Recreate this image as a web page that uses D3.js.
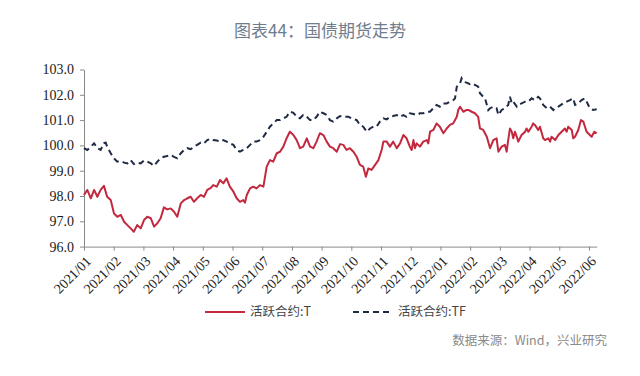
<!DOCTYPE html>
<html>
<head>
<meta charset="utf-8">
<script src="https://cdn.jsdelivr.net/npm/d3@7"></script>
<style>
  body { margin: 0; background: #fff; }
  #wrapper { width: 640px; height: 376px; }
</style>
</head>
<body>
<div id="wrapper"></div>
<script>
// x tick labels, one per month
const monthLabels = ["2021/01", "2021/02", "2021/03", "2021/04", "2021/05", "2021/06",
    "2021/07", "2021/08", "2021/09", "2021/10", "2021/11", "2021/12",
    "2022/01", "2022/02", "2022/03", "2022/04", "2022/05", "2022/06"]
const yTicks = [96, 97, 98, 99, 100, 101, 102, 103]
const lastMonthPos = 17.26  // data runs to early June 2022

// [months since 2021/01, price]
const seriesT = [
    [0.00, 98.04], [0.11, 98.24], [0.23, 97.91], [0.34, 98.24], [0.45, 97.97], [0.56, 98.24],
    [0.67, 98.40], [0.78, 97.97], [0.90, 97.84], [1.01, 97.31], [1.12, 97.18], [1.24, 97.25],
    [1.35, 96.98], [1.46, 96.85], [1.57, 96.72], [1.68, 96.59], [1.79, 96.85], [1.91, 96.72],
    [2.02, 97.05], [2.13, 97.18], [2.25, 97.12], [2.36, 96.79], [2.47, 96.92], [2.58, 97.12],
    [2.69, 97.55], [2.80, 97.47], [2.92, 97.51], [3.03, 97.38], [3.14, 97.18], [3.26, 97.71],
    [3.37, 97.84], [3.48, 97.91], [3.59, 97.97], [3.70, 97.77], [3.81, 97.91], [3.93, 98.04],
    [4.04, 97.97], [4.15, 98.24], [4.27, 98.32], [4.35, 98.43], [4.47, 98.37], [4.58, 98.63],
    [4.69, 98.50], [4.80, 98.70], [4.91, 98.37], [5.03, 98.17], [5.14, 97.91], [5.25, 97.77],
    [5.36, 97.84], [5.42, 97.74], [5.48, 98.04], [5.59, 98.30], [5.70, 98.37], [5.81, 98.30],
    [5.92, 98.43], [6.04, 98.37], [6.15, 99.16], [6.26, 99.42], [6.37, 99.36], [6.49, 99.69],
    [6.60, 99.75], [6.71, 99.95], [6.82, 100.28], [6.93, 100.54], [7.05, 100.41], [7.16, 100.21],
    [7.27, 99.89], [7.38, 99.95], [7.50, 100.28], [7.61, 99.95], [7.72, 99.89], [7.83, 100.15],
    [7.94, 100.48], [8.06, 100.41], [8.17, 100.15], [8.28, 99.95], [8.39, 99.89], [8.51, 99.75],
    [8.62, 100.05], [8.73, 100.02], [8.84, 99.82], [8.95, 99.89], [9.07, 99.75], [9.18, 99.55],
    [9.29, 99.23], [9.40, 99.16], [9.49, 98.76], [9.57, 99.09], [9.68, 99.03], [9.80, 99.23],
    [9.91, 99.42], [10.02, 99.82], [10.08, 100.15], [10.19, 100.15], [10.30, 99.95], [10.41, 100.15],
    [10.53, 99.89], [10.64, 100.08], [10.75, 100.41], [10.86, 100.28], [10.97, 99.95], [11.03, 99.82],
    [11.09, 100.21], [11.14, 99.89], [11.20, 100.08], [11.31, 99.95], [11.42, 100.15], [11.54, 100.21],
    [11.59, 100.08], [11.65, 100.54], [11.76, 100.61], [11.87, 100.87], [11.98, 100.74], [12.10, 100.48],
    [12.21, 100.67], [12.32, 100.81], [12.43, 100.87], [12.55, 101.13], [12.60, 101.40], [12.66, 101.53],
    [12.77, 101.33], [12.88, 101.40], [12.94, 101.40], [13.05, 101.33], [13.16, 101.27], [13.27, 101.13],
    [13.33, 100.67], [13.44, 100.61], [13.56, 100.34], [13.67, 99.89], [13.78, 100.21], [13.89, 100.28],
    [13.95, 99.75], [14.06, 99.95], [14.17, 100.02], [14.23, 99.75], [14.28, 100.21], [14.34, 100.67],
    [14.40, 100.54], [14.45, 100.28], [14.51, 100.54], [14.57, 100.34], [14.62, 100.15], [14.73, 100.41],
    [14.85, 100.54], [14.90, 100.67], [14.96, 100.54], [15.07, 100.74], [15.12, 100.87], [15.18, 100.81],
    [15.29, 100.61], [15.35, 100.74], [15.46, 100.28], [15.52, 100.21], [15.63, 100.28], [15.69, 100.15],
    [15.74, 100.34], [15.86, 100.21], [15.97, 100.41], [16.08, 100.54], [16.19, 100.67], [16.25, 100.54],
    [16.30, 100.74], [16.42, 100.61], [16.47, 100.28], [16.53, 100.34], [16.64, 100.61], [16.73, 101.00],
    [16.81, 100.94], [16.92, 100.54], [17.03, 100.41], [17.09, 100.34], [17.18, 100.54], [17.26, 100.48]
]

const seriesTF = [
    [0.00, 99.89], [0.11, 99.82], [0.23, 99.95], [0.34, 100.08], [0.45, 99.89], [0.56, 99.82],
    [0.67, 100.08], [0.73, 100.11], [0.78, 99.95], [0.90, 99.69], [1.01, 99.49], [1.12, 99.36],
    [1.24, 99.38], [1.35, 99.32], [1.46, 99.29], [1.57, 99.42], [1.68, 99.26], [1.79, 99.32],
    [1.91, 99.29], [2.02, 99.40], [2.13, 99.36], [2.25, 99.29], [2.36, 99.19], [2.47, 99.36],
    [2.58, 99.49], [2.69, 99.55], [2.80, 99.58], [2.92, 99.62], [3.03, 99.55], [3.14, 99.49],
    [3.26, 99.69], [3.37, 99.82], [3.48, 99.89], [3.59, 99.85], [3.70, 99.95], [3.81, 100.02],
    [3.93, 100.11], [4.04, 100.08], [4.15, 100.21], [4.27, 100.26], [4.35, 100.21], [4.47, 100.19],
    [4.58, 100.15], [4.69, 100.21], [4.80, 100.15], [4.91, 100.08], [5.03, 100.02], [5.14, 99.82],
    [5.25, 99.75], [5.36, 99.82], [5.48, 99.89], [5.59, 100.02], [5.70, 100.15], [5.81, 100.15],
    [5.92, 100.21], [6.04, 100.34], [6.15, 100.54], [6.26, 100.74], [6.37, 100.87], [6.49, 101.00],
    [6.60, 101.00], [6.71, 101.07], [6.82, 101.13], [6.93, 101.33], [7.05, 101.29], [7.16, 101.13],
    [7.27, 101.07], [7.38, 101.20], [7.50, 101.13], [7.61, 101.00], [7.72, 101.00], [7.83, 101.13],
    [7.94, 101.33], [8.06, 101.27], [8.17, 101.20], [8.28, 101.00], [8.39, 100.94], [8.51, 101.07],
    [8.62, 101.16], [8.73, 101.13], [8.90, 101.13], [9.01, 101.07], [9.18, 101.00], [9.29, 100.81],
    [9.40, 100.74], [9.52, 100.54], [9.63, 100.67], [9.74, 100.74], [9.85, 100.74], [9.96, 100.94],
    [10.08, 101.07], [10.19, 101.03], [10.30, 101.13], [10.41, 101.16], [10.53, 101.20], [10.64, 101.13],
    [10.75, 101.20], [10.86, 101.13], [10.97, 101.27], [11.09, 101.24], [11.20, 101.20], [11.31, 101.27],
    [11.42, 101.27], [11.54, 101.33], [11.65, 101.33], [11.76, 101.47], [11.87, 101.60], [11.98, 101.53],
    [12.10, 101.66], [12.21, 101.66], [12.32, 101.73], [12.43, 101.79], [12.49, 101.86], [12.55, 102.32],
    [12.60, 102.39], [12.66, 102.45], [12.71, 102.65], [12.77, 102.52], [12.88, 102.48], [12.99, 102.42],
    [13.05, 102.45], [13.16, 102.39], [13.27, 102.32], [13.33, 102.06], [13.44, 101.92], [13.50, 101.86],
    [13.61, 101.40], [13.67, 101.47], [13.78, 101.53], [13.89, 101.47], [13.95, 101.20], [14.06, 101.40],
    [14.17, 101.47], [14.28, 101.60], [14.34, 101.92], [14.40, 101.66], [14.45, 101.73], [14.57, 101.53],
    [14.62, 101.60], [14.73, 101.66], [14.85, 101.73], [14.96, 101.73], [15.07, 101.86], [15.18, 101.79],
    [15.29, 101.92], [15.35, 101.86], [15.46, 101.60], [15.58, 101.47], [15.69, 101.53], [15.80, 101.40],
    [15.86, 101.47], [15.97, 101.53], [16.13, 101.66], [16.25, 101.73], [16.36, 101.79], [16.47, 101.86],
    [16.53, 101.60], [16.64, 101.66], [16.75, 101.79], [16.86, 101.86], [16.92, 101.73], [17.03, 101.47],
    [17.14, 101.40], [17.26, 101.43]
]

const legendItems = [
    {label: "活跃合约:T", color: "#c3283f", dash: null},
    {label: "活跃合约:TF", color: "#1f2b45", dash: "6,4"},
]

function drawChart() {
    const dimensions = createChartDimensions()
    const svg = d3.select("#wrapper")
        .append("svg")
        .attr("width", dimensions.width)
        .attr("height", dimensions.height)
    const bounds = svg.append("g")
        .attr("transform", `translate(${dimensions.margin.left}, ${dimensions.margin.top})`)

    const xScale = d3.scaleLinear()
        .domain([0, lastMonthPos])
        .range([0, dimensions.boundedWidth])
    const yScale = d3.scaleLinear()
        .domain([96, 103])
        .range([dimensions.boundedHeight, 0])

    drawAxes(bounds, xScale, yScale, dimensions)
    drawLines(bounds, xScale, yScale)
    drawTexts(svg, dimensions)
}

function drawAxes(bounds, xScale, yScale, dimensions) {
    const yAxis = bounds.append("g")
        .call(d3.axisLeft(yScale).tickValues(yTicks).tickFormat(d3.format(".1f")).tickSize(4).tickSizeOuter(0))
    const xAxis = bounds.append("g")
        .attr("transform", `translate(0, ${dimensions.boundedHeight})`)
        .call(d3.axisBottom(xScale).tickValues(d3.range(monthLabels.length))
            .tickFormat(i => monthLabels[i]).tickSize(4).tickSizeOuter(0))

    for (const axis of [xAxis, yAxis]) {
        axis.select(".domain").attr("stroke", "#8a8a8a")
        axis.selectAll(".tick line").attr("stroke", "#8a8a8a")
        axis.selectAll(".tick text")
            .attr("fill", "#1a1a1a")
            .style("font-family", "'Liberation Serif', 'Times New Roman', serif")
            .style("font-size", "14px")
    }
    yAxis.selectAll(".tick text").attr("x", -10)

    xAxis.selectAll(".tick text")
        .attr("x", 0)
        .attr("y", 0)
        .attr("dy", "0.35em")
        .attr("text-anchor", "end")
        .attr("transform", "translate(4, 12) rotate(-45)")
}

function drawLines(bounds, xScale, yScale) {
    const line = d3.line()
        .x(d => xScale(d[0]))
        .y(d => yScale(d[1]))

    bounds.append("path")
        .attr("d", line(seriesTF))
        .attr("fill", "none")
        .attr("stroke", legendItems[1].color)
        .attr("stroke-width", 2)
        .attr("stroke-dasharray", legendItems[1].dash)

    bounds.append("path")
        .attr("d", line(seriesT))
        .attr("fill", "none")
        .attr("stroke", legendItems[0].color)
        .attr("stroke-width", 2)
        .attr("stroke-linejoin", "round")
}

function drawTexts(svg, dimensions) {
    svg.append("text")
        .attr("x", dimensions.width / 2)
        .attr("y", 37)
        .attr("text-anchor", "middle")
        .attr("fill", "#6f7d8e")
        .style("font-family", "'Noto Sans CJK SC', sans-serif")
        .style("font-size", "17px")
        .text("图表44：国债期货走势")

    const legend = svg.append("g")
        .attr("transform", "translate(205, 312)")
    const offsets = [0, 148]
    legendItems.forEach((item, i) => {
        const g = legend.append("g").attr("transform", `translate(${offsets[i]}, 0)`)
        g.append("line")
            .attr("x1", 0).attr("x2", 40)
            .attr("stroke", item.color)
            .attr("stroke-width", 2)
            .attr("stroke-dasharray", item.dash)
        g.append("text")
            .attr("x", 45)
            .attr("dy", "0.35em")
            .attr("fill", "#444")
            .style("font-family", "'Noto Sans CJK SC', sans-serif")
            .style("font-size", "12.5px")
            .text(item.label)
    })

    svg.append("text")
        .attr("x", 607)
        .attr("y", 345)
        .attr("text-anchor", "end")
        .attr("fill", "#8a8a8a")
        .style("font-family", "'Noto Sans CJK SC', sans-serif")
        .style("font-size", "12.5px")
        .text("数据来源：Wind，兴业研究")
}

function createChartDimensions() {
    let dimensions = {
        width: 640,
        height: 376,
        margin: {top: 69.5, right: 43.3, bottom: 129.4, left: 84},
    }
    dimensions.boundedWidth = dimensions.width - dimensions.margin.left - dimensions.margin.right
    dimensions.boundedHeight = dimensions.height - dimensions.margin.top - dimensions.margin.bottom
    return dimensions
}

drawChart()
</script>
</body>
</html>
